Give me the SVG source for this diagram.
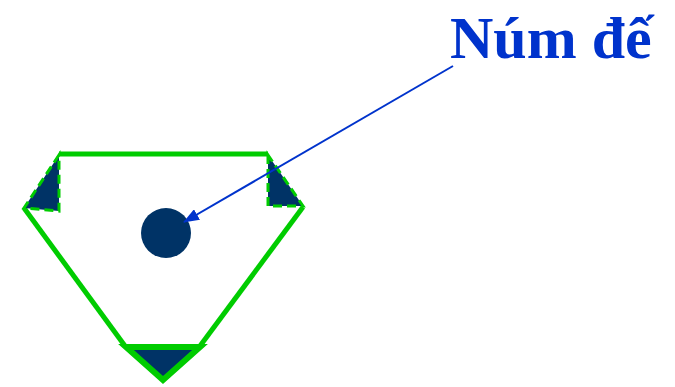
<svg xmlns="http://www.w3.org/2000/svg" width="675" height="387" viewBox="0 0 675 387">
<style>
.solid{fill:none;stroke:#00cc00;stroke-width:5;stroke-linejoin:miter}
.btri{fill:#003366;stroke:#00cc00;stroke-width:6;stroke-linejoin:miter}
.tri{fill:#003366;stroke:#00cc00;stroke-width:3;stroke-dasharray:9 5}
.blue{stroke:#0033cc;stroke-width:2;fill:none}
.lbl{font-family:"Liberation Serif",serif;font-weight:bold;font-size:60px;fill:#0033cc}
</style>
<defs>
<marker id="ah" markerWidth="16" markerHeight="12" refX="15" refY="6" orient="auto" markerUnits="userSpaceOnUse" viewBox="0 0 16 12">
<path d="M0,0 L16,6 L0,12 Z" fill="#0033cc"/>
</marker>
</defs>
<g id="frame">
<polyline class="solid" points="59,154 268,154"/>
<polyline class="solid" points="24,208 125,346"/>
<polyline class="solid" points="303,207 200,346"/>
</g>
<g id="left-tab"><polygon class="tri" points="59,155 24,208 59,211"/></g>
<g id="right-tab"><polygon class="tri" points="268,155 268,206 303,206"/></g>
<g id="bottom-tab">
<polygon class="btri" points="126,347 200,347 163,380"/>
</g>
<g id="knob"><circle cx="166" cy="233" r="25" fill="#003366"/></g>
<g id="connectors"><line class="blue" x1="453" y1="66" x2="184" y2="222" marker-end="url(#ah)"/></g>
<g id="label"><text class="lbl" x="450" y="58">Núm đế</text></g>
</svg>
